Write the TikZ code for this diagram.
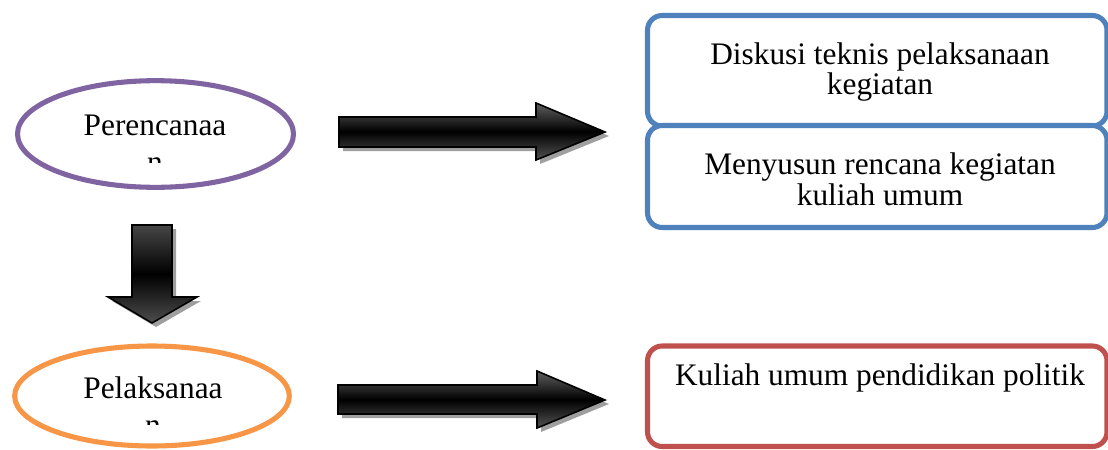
\documentclass[tikz,border=0pt]{standalone}
\usepackage{fontspec}
\setmainfont{Liberation Serif}
\usetikzlibrary{shapes.geometric}
\definecolor{purpC}{HTML}{8064A2}
\definecolor{orangeC}{HTML}{F79646}
\definecolor{blueC}{HTML}{4F81BD}
\definecolor{redC}{HTML}{C0504D}
\tikzset{
  oval/.style={ellipse, line width=3.8pt, fill=white, inner sep=0pt},
  rbox/.style={rectangle, rounded corners=11pt, line width=3.8pt, fill=white, inner sep=0pt, minimum width=344.6pt},
  txt/.style={font=\fontsize{23.5}{23}\selectfont, inner sep=0pt, align=center},
  blockarrow/.style={draw=black, line width=1.2pt, line join=miter, shading=axis, top color=gray!75!black, bottom color=gray!65!black, middle color=black},
  blockshadow/.style={fill=gray!75, draw=none}
}
\begin{document}
\begin{tikzpicture}[x=0.75pt,y=-0.75pt]
\useasboundingbox (0,0) rectangle (1108,450);
% ellipses
\node[oval, draw=purpC, minimum width=207pt, minimum height=80pt] (plan) at (155.5,134) {};
\node[txt, anchor=base] (plantxt) at (155,135) {Perencanaa};
\begin{scope}
  \clip (100,150) rectangle (210,162);
  \node[txt, anchor=base] (plann) at (155,172) {n};
\end{scope}
\node[oval, draw=orangeC, minimum width=206pt, minimum height=75pt] (exec) at (152,396) {};
\node[txt, anchor=base] (exectxt) at (153,398) {Pelaksanaa};
\begin{scope}
  \clip (100,415) rectangle (210,424);
  \node[txt, anchor=base] (execn) at (153,435) {n};
\end{scope}
% right arrow 1 (shadow + body)
\fill[blockshadow] (343,121) -- (540,121) -- (540,107) -- (609,136) -- (540,164) -- (540,151) -- (343,151) -- cycle;
\path[blockarrow] (339,117) -- (536,117) -- (536,103) -- (605,132) -- (536,160) -- (536,147) -- (339,147) -- cycle;
% right arrow 2
\fill[blockshadow] (342,389) -- (541,389) -- (541,375) -- (609,404) -- (541,432) -- (541,418) -- (342,418) -- cycle;
\path[blockarrow] (338,385) -- (537,385) -- (537,371) -- (605,400) -- (537,428) -- (537,414) -- (338,414) -- cycle;
% down arrow
\fill[blockshadow] (136,229) -- (176,229) -- (176,301) -- (201,301) -- (156,327) -- (112,301) -- (136,301) -- cycle;
\path[draw=black, line width=1.2pt, line join=miter, shading=axis, top color=gray!55!black, bottom color=gray!60!black, middle color=black]
  (132,225) -- (172,225) -- (172,297) -- (197,297) -- (152,323) -- (108,297) -- (132,297) -- cycle;
% boxes
\node[rbox, draw=blueC, minimum height=82.9pt] (b1) at (877.25,70.75) {};
\node[rbox, draw=blueC, minimum height=76.5pt] (b2) at (877.25,176.5) {};
\node[rbox, draw=redC, minimum height=75.4pt] (b3) at (877.25,396.25) {};
\node[txt] (b1t) at (880,72) {Diskusi teknis pelaksanaan\\kegiatan};
\node[txt] (b2t) at (880,179) {Menyusun rencana kegiatan\\kuliah umum};
\node[txt, anchor=base] (b3t) at (880,385) {Kuliah umum pendidikan politik};
\end{tikzpicture}
\end{document}
